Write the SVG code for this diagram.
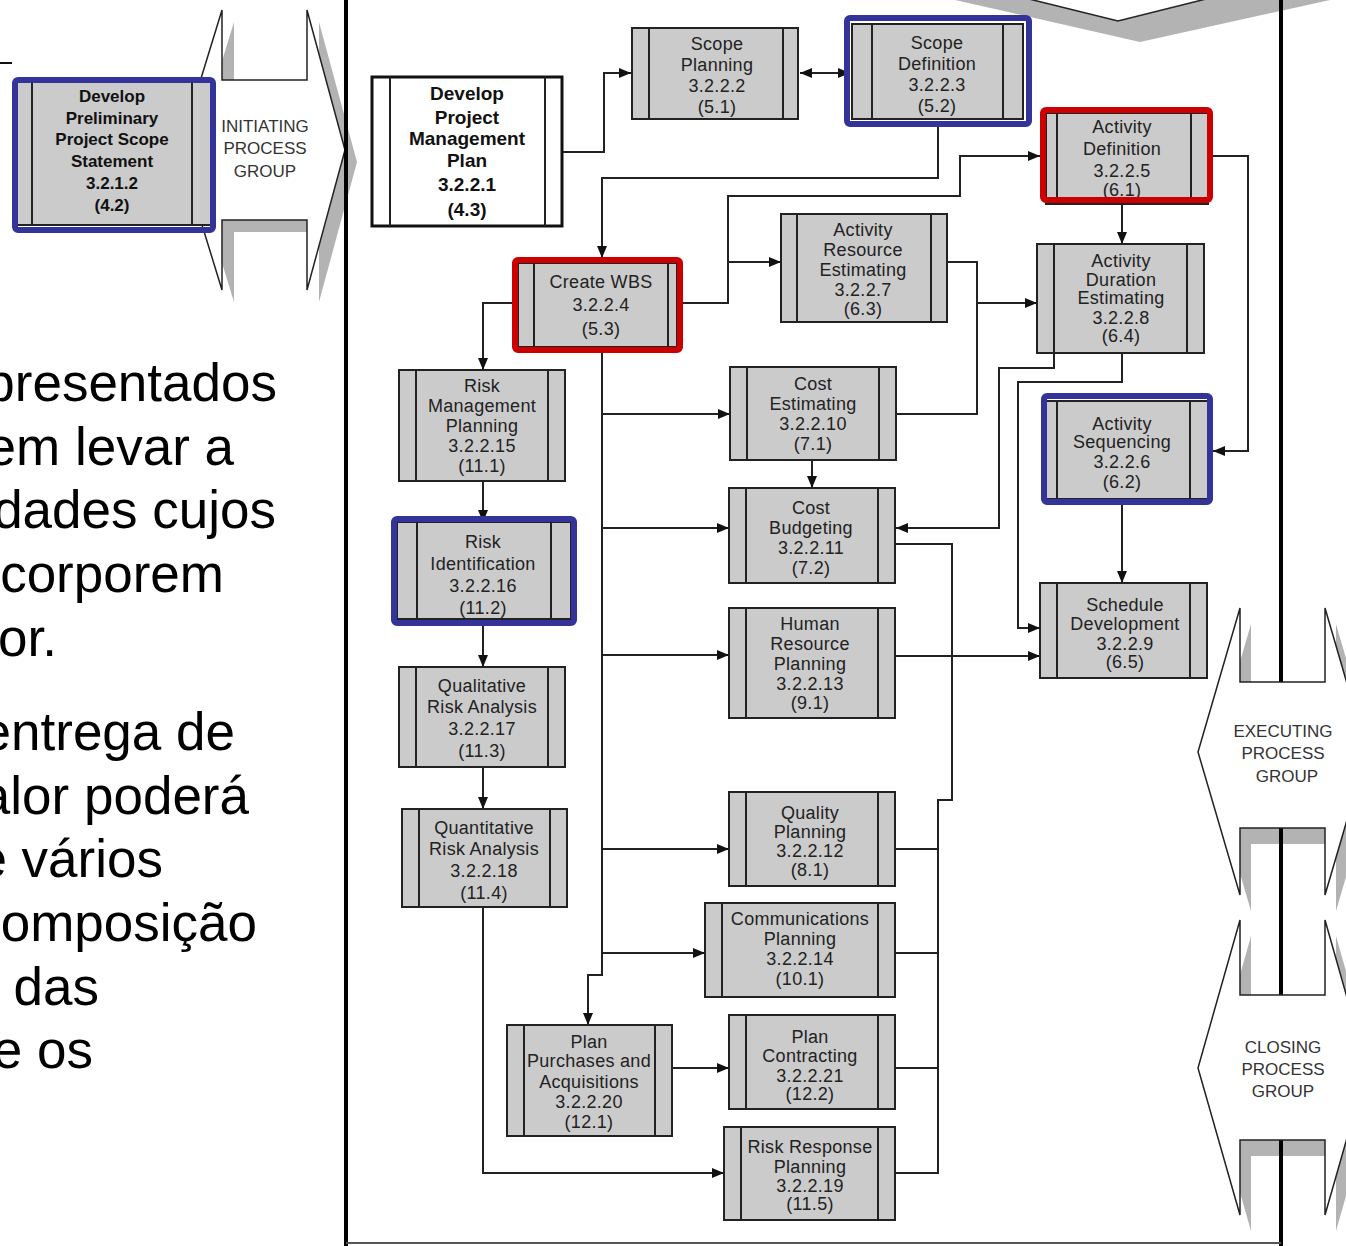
<svg xmlns="http://www.w3.org/2000/svg" width="1346" height="1246" viewBox="0 0 1346 1246">
<defs>
<style>
.box{fill:#cbcbcb;stroke:#222;stroke-width:2}
.wbox{fill:#fff;stroke:#111;stroke-width:3}
.inner{stroke:#222;stroke-width:2}
.t{font-family:"Liberation Sans",Arial,sans-serif;font-size:18px;letter-spacing:0.3px;fill:#222;text-anchor:middle}
.tb{font-family:"Liberation Sans",Arial,sans-serif;font-weight:bold;font-size:19px;fill:#111;text-anchor:middle}
.conn{fill:none;stroke:#222;stroke-width:2}
.arr{marker-end:url(#ah)}
.blue{fill:none;stroke:#333399;stroke-width:6}
.red{fill:none;stroke:#cc0000;stroke-width:6}
.pg{fill:#fff;stroke:#222;stroke-width:1.5}
.shadow{fill:#b3b3b3}
.pgt{font-family:"Liberation Sans",Arial,sans-serif;font-size:17px;fill:#333;text-anchor:middle}
.big{font-family:"Liberation Sans",Arial,sans-serif;font-size:53px;fill:#000;text-anchor:end}
.frame{stroke:#000;stroke-width:4}
</style>
<marker id="ah" viewBox="0 0 12 10" refX="12" refY="5" markerWidth="12" markerHeight="10" markerUnits="userSpaceOnUse" orient="auto-start-reverse">
<path d="M0,0 L12,5 L0,10 z" fill="#111"/>
</marker>
</defs>
<rect width="1346" height="1246" fill="#fff"/>

<!-- left text -->
<g id="side-text">
<text class="big" x="277" y="401">presentados</text>
<text class="big" x="234" y="465">em levar a</text>
<text class="big" x="276" y="528">dades cujos</text>
<text class="big" x="224" y="592">corporem</text>
<text class="big" x="57" y="656">or.</text>
<text class="big" x="235" y="750">entrega de</text>
<text class="big" x="249" y="814">alor poderá</text>
<text class="big" x="163" y="877">e vários</text>
<text class="big" x="257" y="941">omposição</text>
<text class="big" x="99" y="1005">das</text>
<text class="big" x="93" y="1068">e os</text>
</g>
<line x1="0" y1="63" x2="12" y2="63" stroke="#111" stroke-width="2"/>

<!-- process group shapes -->
<g id="initiating-group">
<polygon class="shadow" points="234,22 234,92 319,92 319,22 357,162 319,302 319,232 234,232 234,302 191,162"/>
<polygon class="pg" points="222,10 222,80 307,80 307,10 345,150 307,290 307,220 222,220 222,290 179,150"/>
<text class="pgt" x="265" y="132">INITIATING</text>
<text class="pgt" x="265" y="154">PROCESS</text>
<text class="pgt" x="265" y="177">GROUP</text>
</g>

<g id="planning-group-top">
<polygon class="shadow" points="955,0 1140,42 1330,0"/>
</g>
<g id="executing-shadow">
<polygon class="shadow" points="1251,624 1251,698 1336,698 1336,624 1378,768 1336,911 1336,844 1251,844 1251,911 1209,768"/>
<polygon class="shadow" points="1251,936 1251,1011 1336,1011 1336,936 1378,1084 1336,1231 1336,1156 1251,1156 1251,1231 1209,1084"/>
</g>

<g id="frame">
<line class="frame" x1="346" y1="0" x2="346" y2="1246"/>
<line class="frame" x1="1281" y1="0" x2="1281" y2="1246"/>
<line x1="346" y1="1243" x2="1281" y2="1243" stroke="#555" stroke-width="2"/>
</g>

<polygon class="pg" points="1025,-2 1118,21 1210,-2"/>

<g id="executing-group">
<polygon class="pg" points="1240,608 1240,682 1325,682 1325,608 1367,752 1325,895 1325,828 1240,828 1240,895 1198,752"/>
<text class="pgt" x="1283" y="737">EXECUTING</text>
<text class="pgt" x="1283" y="759">PROCESS</text>
<text class="pgt" x="1287" y="782">GROUP</text>
</g>
<g id="closing-group">
<polygon class="pg" points="1240,920 1240,995 1325,995 1325,920 1367,1068 1325,1215 1325,1140 1240,1140 1240,1215 1198,1068"/>
<text class="pgt" x="1283" y="1053">CLOSING</text>
<text class="pgt" x="1283" y="1075">PROCESS</text>
<text class="pgt" x="1283" y="1097">GROUP</text>
</g>

<!-- connectors -->
<g id="connectors">
<path class="conn arr" d="M562,152 H604 V73 H631"/>
<path class="conn" d="M800,73 H850" marker-start="url(#ah)" marker-end="url(#ah)"/>
<path class="conn arr" d="M938,127 V178 H602 V258"/>
<path class="conn arr" d="M683,303 H728 V196 H960 V156 H1040"/>
<path class="conn arr" d="M728,262 H781"/>
<path class="conn arr" d="M1122,203 V244"/>
<path class="conn arr" d="M1213,156 H1248 V451 H1213"/>
<path class="conn arr" d="M947,262 H977 V303 H1037"/>
<path class="conn" d="M896,414 H977 V303"/>
<path class="conn arr" d="M1054,353 V368 H999 V528 H896"/>
<path class="conn arr" d="M1122,353 V382 H1018 V628 H1040"/>
<path class="conn arr" d="M1122,505 V583"/>
<path class="conn arr" d="M895,656 H1040"/>
<path class="conn" d="M895,544 H952 V800 H938 V1173 H895"/>
<path class="conn" d="M895,849 H938"/>
<path class="conn" d="M895,953 H938"/>
<path class="conn" d="M895,1068 H938"/>
<path class="conn arr" d="M602,353 V975 H588 V1025"/>
<path class="conn arr" d="M602,414 H730"/>
<path class="conn arr" d="M602,528 H729"/>
<path class="conn arr" d="M602,655 H729"/>
<path class="conn arr" d="M602,849 H729"/>
<path class="conn arr" d="M602,953 H705"/>
<path class="conn arr" d="M512,303 H483 V370"/>
<path class="conn arr" d="M483,481 V522"/>
<path class="conn arr" d="M483,626 V667"/>
<path class="conn arr" d="M483,767 V809"/>
<path class="conn arr" d="M483,907 V1173 H724"/>
<path class="conn arr" d="M672,1068 H729"/>
<path class="conn arr" d="M812,460 V488"/>
</g>

<!-- nodes -->
<g id="n-ppss">
<rect class="box" x="16" y="80" width="196" height="145"/>
<line class="inner" x1="32" y1="80" x2="32" y2="225"/>
<line class="inner" x1="192" y1="80" x2="192" y2="225"/>
<text class="tb" style="font-size:17px" x="112" y="102">Develop</text>
<text class="tb" style="font-size:17px" x="112" y="124">Preliminary</text>
<text class="tb" style="font-size:17px" x="112" y="145">Project Scope</text>
<text class="tb" style="font-size:17px" x="112" y="167">Statement</text>
<text class="tb" style="font-size:17px" x="112" y="189">3.2.1.2</text>
<text class="tb" style="font-size:17px" x="112" y="211">(4.2)</text>
<rect class="blue" x="15" y="80" width="198" height="150" rx="3"/>
</g>

<g id="n-dpmp">
<rect class="wbox" x="372" y="77" width="190" height="149"/>
<line class="inner" x1="390" y1="77" x2="390" y2="226" stroke-width="1.5"/>
<line class="inner" x1="545" y1="77" x2="545" y2="226" stroke-width="1.5"/>
<text class="tb" x="467" y="100">Develop</text>
<text class="tb" x="467" y="124">Project</text>
<text class="tb" x="467" y="145">Management</text>
<text class="tb" x="467" y="167">Plan</text>
<text class="tb" x="467" y="191">3.2.2.1</text>
<text class="tb" x="467" y="216">(4.3)</text>
</g>

<g id="n-scope-planning">
<rect class="box" x="632" y="28" width="166" height="91"/>
<line class="inner" x1="649" y1="28" x2="649" y2="119"/>
<line class="inner" x1="783" y1="28" x2="783" y2="119"/>
<text class="t" x="717" y="49.5">Scope</text>
<text class="t" x="717" y="70.5">Planning</text>
<text class="t" x="717" y="91.5">3.2.2.2</text>
<text class="t" x="717" y="112.5">(5.1)</text>
</g>

<g id="n-scope-definition">
<rect class="box" x="852" y="24" width="171" height="95"/>
<line class="inner" x1="872" y1="24" x2="872" y2="119"/>
<line class="inner" x1="1003" y1="24" x2="1003" y2="119"/>
<text class="t" x="937" y="48.5">Scope</text>
<text class="t" x="937" y="69.5">Definition</text>
<text class="t" x="937" y="90.5">3.2.2.3</text>
<text class="t" x="937" y="111.5">(5.2)</text>
<rect class="blue" x="847" y="18" width="182" height="106" rx="3"/>
</g>

<g id="n-activity-definition">
<rect class="box" x="1046" y="113" width="162" height="91"/>
<line class="inner" x1="1057" y1="113" x2="1057" y2="204"/>
<line class="inner" x1="1191" y1="113" x2="1191" y2="204"/>
<text class="t" x="1122" y="132.5">Activity</text>
<text class="t" x="1122" y="154.5">Definition</text>
<text class="t" x="1122" y="176.5">3.2.2.5</text>
<text class="t" x="1122" y="195.5">(6.1)</text>
<rect class="red" x="1043" y="110" width="167" height="90" rx="3"/>
</g>

<g id="n-create-wbs">
<rect class="box" x="518" y="263" width="159" height="84"/>
<line class="inner" x1="534" y1="263" x2="534" y2="347"/>
<line class="inner" x1="668" y1="263" x2="668" y2="347"/>
<text class="t" x="601" y="287.5">Create WBS</text>
<text class="t" x="601" y="310.5">3.2.2.4</text>
<text class="t" x="601" y="334.5">(5.3)</text>
<rect class="red" x="515" y="260" width="165" height="90" rx="3"/>
</g>

<g id="n-activity-resource">
<rect class="box" x="781" y="214" width="166" height="108"/>
<line class="inner" x1="797" y1="214" x2="797" y2="322"/>
<line class="inner" x1="931" y1="214" x2="931" y2="322"/>
<text class="t" x="863" y="235.5">Activity</text>
<text class="t" x="863" y="255.5">Resource</text>
<text class="t" x="863" y="275.5">Estimating</text>
<text class="t" x="863" y="295.5">3.2.2.7</text>
<text class="t" x="863" y="314.5">(6.3)</text>
</g>

<g id="n-activity-duration">
<rect class="box" x="1037" y="244" width="167" height="109"/>
<line class="inner" x1="1054" y1="244" x2="1054" y2="353"/>
<line class="inner" x1="1187" y1="244" x2="1187" y2="353"/>
<text class="t" x="1121" y="266.5">Activity</text>
<text class="t" x="1121" y="285.5">Duration</text>
<text class="t" x="1121" y="303.5">Estimating</text>
<text class="t" x="1121" y="323.5">3.2.2.8</text>
<text class="t" x="1121" y="341.5">(6.4)</text>
</g>

<g id="n-activity-sequencing">
<rect class="box" x="1046" y="401" width="163" height="98"/>
<line class="inner" x1="1057" y1="401" x2="1057" y2="499"/>
<line class="inner" x1="1190" y1="401" x2="1190" y2="499"/>
<text class="t" x="1122" y="429.5">Activity</text>
<text class="t" x="1122" y="447.5">Sequencing</text>
<text class="t" x="1122" y="467.5">3.2.2.6</text>
<text class="t" x="1122" y="487.5">(6.2)</text>
<rect class="blue" x="1044" y="396" width="166" height="106" rx="3"/>
</g>

<g id="n-schedule-development">
<rect class="box" x="1040" y="583" width="167" height="95"/>
<line class="inner" x1="1057" y1="583" x2="1057" y2="678"/>
<line class="inner" x1="1190" y1="583" x2="1190" y2="678"/>
<text class="t" x="1125" y="610.5">Schedule</text>
<text class="t" x="1125" y="629.5">Development</text>
<text class="t" x="1125" y="649.5">3.2.2.9</text>
<text class="t" x="1125" y="667.5">(6.5)</text>
</g>

<g id="n-risk-management-planning">
<rect class="box" x="399" y="370" width="166" height="111"/>
<line class="inner" x1="416" y1="370" x2="416" y2="481"/>
<line class="inner" x1="548" y1="370" x2="548" y2="481"/>
<text class="t" x="482" y="391.5">Risk</text>
<text class="t" x="482" y="411.5">Management</text>
<text class="t" x="482" y="431.5">Planning</text>
<text class="t" x="482" y="451.5">3.2.2.15</text>
<text class="t" x="482" y="471.5">(11.1)</text>
</g>

<g id="n-risk-identification">
<rect class="box" x="397" y="522" width="174" height="97"/>
<line class="inner" x1="417" y1="522" x2="417" y2="619"/>
<line class="inner" x1="551" y1="522" x2="551" y2="619"/>
<text class="t" x="483" y="547.5">Risk</text>
<text class="t" x="483" y="569.5">Identification</text>
<text class="t" x="483" y="591.5">3.2.2.16</text>
<text class="t" x="483" y="613.5">(11.2)</text>
<rect class="blue" x="394" y="519" width="180" height="104" rx="3"/>
</g>

<g id="n-qualitative-risk">
<rect class="box" x="399" y="667" width="166" height="100"/>
<line class="inner" x1="416" y1="667" x2="416" y2="767"/>
<line class="inner" x1="548" y1="667" x2="548" y2="767"/>
<text class="t" x="482" y="691.5">Qualitative</text>
<text class="t" x="482" y="712.5">Risk Analysis</text>
<text class="t" x="482" y="734.5">3.2.2.17</text>
<text class="t" x="482" y="756.5">(11.3)</text>
</g>

<g id="n-quantitative-risk">
<rect class="box" x="402" y="809" width="165" height="98"/>
<line class="inner" x1="419" y1="809" x2="419" y2="907"/>
<line class="inner" x1="550" y1="809" x2="550" y2="907"/>
<text class="t" x="484" y="833.5">Quantitative</text>
<text class="t" x="484" y="854.5">Risk Analysis</text>
<text class="t" x="484" y="876.5">3.2.2.18</text>
<text class="t" x="484" y="898.5">(11.4)</text>
</g>

<g id="n-plan-purchases">
<rect class="box" x="507" y="1025" width="165" height="111"/>
<line class="inner" x1="524" y1="1025" x2="524" y2="1136"/>
<line class="inner" x1="655" y1="1025" x2="655" y2="1136"/>
<text class="t" x="589" y="1047.5">Plan</text>
<text class="t" x="589" y="1066.5">Purchases and</text>
<text class="t" x="589" y="1087.5">Acquisitions</text>
<text class="t" x="589" y="1107.5">3.2.2.20</text>
<text class="t" x="589" y="1127.5">(12.1)</text>
</g>

<g id="n-cost-estimating">
<rect class="box" x="730" y="367" width="166" height="93"/>
<line class="inner" x1="747" y1="367" x2="747" y2="460"/>
<line class="inner" x1="879" y1="367" x2="879" y2="460"/>
<text class="t" x="813" y="389.5">Cost</text>
<text class="t" x="813" y="409.5">Estimating</text>
<text class="t" x="813" y="429.5">3.2.2.10</text>
<text class="t" x="813" y="449.5">(7.1)</text>
</g>

<g id="n-cost-budgeting">
<rect class="box" x="729" y="488" width="166" height="95"/>
<line class="inner" x1="746" y1="488" x2="746" y2="583"/>
<line class="inner" x1="878" y1="488" x2="878" y2="583"/>
<text class="t" x="811" y="513.5">Cost</text>
<text class="t" x="811" y="533.5">Budgeting</text>
<text class="t" x="811" y="553.5">3.2.2.11</text>
<text class="t" x="811" y="573.5">(7.2)</text>
</g>

<g id="n-human-resource">
<rect class="box" x="729" y="608" width="166" height="110"/>
<line class="inner" x1="746" y1="608" x2="746" y2="718"/>
<line class="inner" x1="878" y1="608" x2="878" y2="718"/>
<text class="t" x="810" y="629.5">Human</text>
<text class="t" x="810" y="649.5">Resource</text>
<text class="t" x="810" y="669.5">Planning</text>
<text class="t" x="810" y="689.5">3.2.2.13</text>
<text class="t" x="810" y="708.5">(9.1)</text>
</g>

<g id="n-quality-planning">
<rect class="box" x="729" y="792" width="166" height="94"/>
<line class="inner" x1="746" y1="792" x2="746" y2="886"/>
<line class="inner" x1="878" y1="792" x2="878" y2="886"/>
<text class="t" x="810" y="818.5">Quality</text>
<text class="t" x="810" y="837.5">Planning</text>
<text class="t" x="810" y="856.5">3.2.2.12</text>
<text class="t" x="810" y="875.5">(8.1)</text>
</g>

<g id="n-communications-planning">
<rect class="box" x="705" y="903" width="190" height="94"/>
<line class="inner" x1="722" y1="903" x2="722" y2="997"/>
<line class="inner" x1="878" y1="903" x2="878" y2="997"/>
<text class="t" x="800" y="924.5">Communications</text>
<text class="t" x="800" y="944.5">Planning</text>
<text class="t" x="800" y="964.5">3.2.2.14</text>
<text class="t" x="800" y="984.5">(10.1)</text>
</g>

<g id="n-plan-contracting">
<rect class="box" x="729" y="1015" width="166" height="94"/>
<line class="inner" x1="746" y1="1015" x2="746" y2="1109"/>
<line class="inner" x1="878" y1="1015" x2="878" y2="1109"/>
<text class="t" x="810" y="1042.5">Plan</text>
<text class="t" x="810" y="1061.5">Contracting</text>
<text class="t" x="810" y="1081.5">3.2.2.21</text>
<text class="t" x="810" y="1099.5">(12.2)</text>
</g>

<g id="n-risk-response">
<rect class="box" x="724" y="1127" width="171" height="93"/>
<line class="inner" x1="741" y1="1127" x2="741" y2="1220"/>
<line class="inner" x1="878" y1="1127" x2="878" y2="1220"/>
<text class="t" x="810" y="1152.5">Risk Response</text>
<text class="t" x="810" y="1172.5">Planning</text>
<text class="t" x="810" y="1191.5">3.2.2.19</text>
<text class="t" x="810" y="1209.5">(11.5)</text>
</g>
</svg>
